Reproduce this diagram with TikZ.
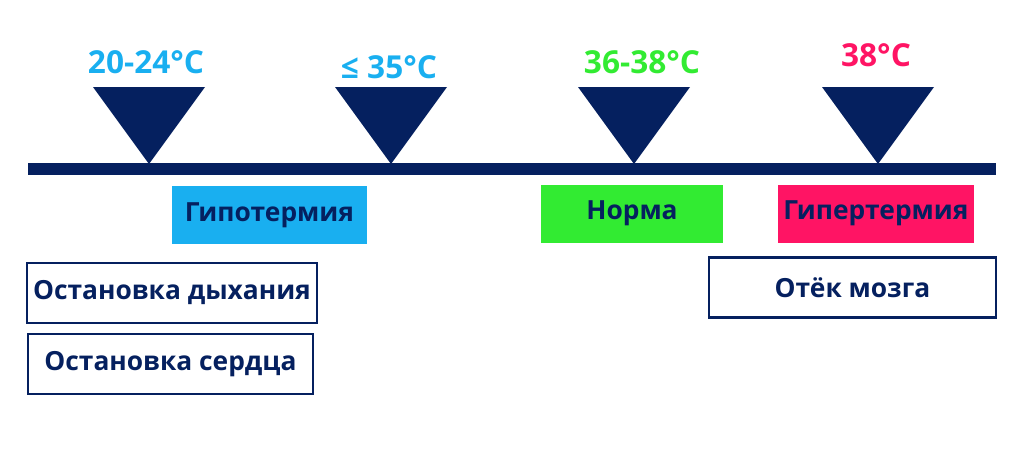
\documentclass[tikz,border=0pt]{standalone}
\usepackage{fontspec}
\setmainfont{Open Sans}
\definecolor{navy}{RGB}{5,32,95}
\definecolor{cyanT}{RGB}{25,175,240}
\definecolor{greenT}{RGB}{50,235,50}
\definecolor{pinkT}{RGB}{255,20,100}
\tikzset{
  marker/.style={fill=navy},
  templabel/.style={font=\fontsize{18}{20}\selectfont\bfseries},
  statebox/.style={minimum height=0.02cm*58, font=\fontsize{15}{17}\selectfont\bfseries, text=navy},
  riskbox/.style={draw=navy, line width=1.2pt, fill=white, minimum height=0.02cm*60, font=\fontsize{15}{17}\selectfont\bfseries, text=navy}
}
\begin{document}
\begin{tikzpicture}[x=0.02cm, y=-0.02cm]
\useasboundingbox (0,0) rectangle (1024,450);
% timeline
\fill[navy] (28,163) rectangle (996,175);
\foreach \x in {149,391,634,878}
  \fill[marker] (\x-56,87) -- (\x+56,87) -- (\x,164) -- cycle;

\node[templabel, text=cyanT]  (t1) at (146,62) {20-24°C};
\node[templabel, text=cyanT]  (t2) at (389,67) {≤ 35°C};
\node[templabel, text=greenT] (t3) at (642,62) {36-38°C};
\node[templabel, text=pinkT]  (t4) at (876,55) {38°C};

\node[statebox, fill=cyanT,  minimum width=0.02cm*195] (hypo)  at (269.5,215) {Гипотермия};
\node[statebox, fill=greenT, minimum width=0.02cm*182] (norm)  at (632,213.5) {Норма};
\node[statebox, fill=pinkT,  minimum width=0.02cm*194] (hyper) at (876,213.5) {Гипертермия};

\node[riskbox, minimum width=0.02cm*288] (breath) at (172,293) {Остановка дыхания};
\node[riskbox, minimum width=0.02cm*285] (heart)  at (170.5,364) {Остановка сердца};
\node[riskbox, minimum width=0.02cm*287] (brain)  at (852.5,287.5) {Отёк мозга};
\end{tikzpicture}
\end{document}
